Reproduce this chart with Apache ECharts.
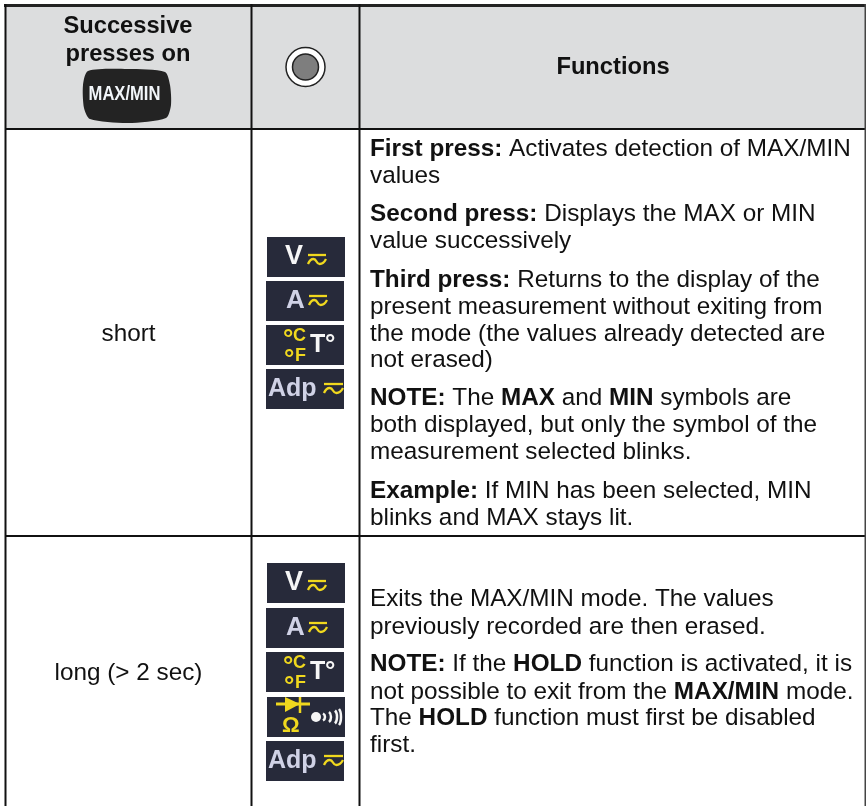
<!DOCTYPE html>
<html>
<head>
<meta charset="utf-8">
<style>html,body{margin:0;padding:0;background:#fff}#main{width:866px;height:806px}</style>
<script src="https://cdn.jsdelivr.net/npm/echarts@6/dist/echarts.min.js"></script>
</head>
<body>
<div id="main"></div>
<script>
// table content
const headerLeft = ['Successive', 'presses on'];
const headerButton = 'MAX/MIN';
const headerRight = 'Functions';
const rowLabels = ['short', 'long (> 2 sec)'];
// {b|...} marks the bold runs
const shortLines = [
    '{b|First press:} Activates detection of MAX/MIN',
    'values',
    '{b|Second press:} Displays the MAX or MIN',
    'value successively',
    '{b|Third press:} Returns to the display of the',
    'present measurement without exiting from',
    'the mode (the values already detected are',
    'not erased)',
    '{b|NOTE:} The {b|MAX} and {b|MIN} symbols are',
    'both displayed, but only the symbol of the',
    'measurement selected blinks.',
    '{b|Example:} If MIN has been selected, MIN',
    'blinks and MAX stays lit.'
];
const longLines = [
    'Exits the MAX/MIN mode. The values',
    'previously recorded are then erased.',
    '{b|NOTE:} If the {b|HOLD} function is activated, it is',
    'not possible to exit from the {b|MAX/MIN} mode.',
    'The {b|HOLD} function must first be disabled',
    'first.'
];
const shortIcons = ['V', 'A', 'T', 'Adp'];
const longIcons = ['V', 'A', 'T', 'diode', 'Adp'];

// layout
const shortLineY = [149, 176, 214, 241, 280, 307, 334, 360, 398, 425, 452, 491, 518];
const longLineY = [599, 627, 664, 692, 718, 745];
const shortIconY = [237, 281, 325, 369];
const longIconY = [563, 608, 652, 697, 741];

const FONT = '"Liberation Sans", Arial, sans-serif';
const BODY_SIZE = 24.3;
const HEAD_SIZE = 23.7;
const LINE = '#111';
const ICON_BG = '#272a3a';
const YELLOW = '#f0d81e';
const WHITE = '#f6f6f6';
const LILAC = '#d0d2e6';

const els = [];

function rect(x, y, w, h, fill) {
    els.push({ type: 'rect', shape: { x, y, width: w, height: h }, style: { fill } });
}
function label(x, y, text, opt, extra) {
    els.push(Object.assign({
        type: 'text', x, y,
        style: Object.assign({
            text, fill: '#111', font: BODY_SIZE + 'px ' + FONT,
            align: 'left', verticalAlign: 'middle'
        }, opt || {})
    }, extra || {}));
}
function richLine(x, y, text) {
    els.push({
        type: 'text', x, y,
        style: {
            text, fill: '#111', fontFamily: 'Liberation Sans', fontSize: BODY_SIZE,
            verticalAlign: 'middle', align: 'left',
            rich: { b: { fontFamily: 'Liberation Sans', fontSize: BODY_SIZE, fontWeight: 'bold', fill: '#111' } }
        }
    });
}
function stroke(points, color, width, smooth) {
    els.push({
        type: 'polyline', shape: { points, smooth: smooth || 0 },
        style: { fill: 'none', stroke: color, lineWidth: width }
    });
}

// AC/DC mark: straight bar over a wave
function acdc(x, y, w) {
    stroke([[x, y], [x + w, y]], YELLOW, 2.3);
    stroke([[x, y + 9], [x + w * 0.3, y + 4], [x + w * 0.65, y + 9], [x + w, y + 4]], YELLOW, 2.3, 0.6);
}

function icon(kind, x, y) {
    const w = 78, h = 40;
    rect(x, y, w, h, ICON_BG);
    if (kind === 'V') {
        label(x + 18, y + 20, 'V', { font: 'bold 27px ' + FONT, fill: WHITE });
        acdc(x + 41, y + 18, 18);
    } else if (kind === 'A') {
        label(x + 20, y + 20, 'A', { font: 'bold 26px ' + FONT, fill: LILAC });
        acdc(x + 43, y + 15, 18);
    } else if (kind === 'T') {
        label(x + 17, y + 15, '°', { font: 'bold 26px ' + FONT, fill: YELLOW });
        label(x + 27, y + 11, 'C', { font: 'bold 18px ' + FONT, fill: YELLOW });
        label(x + 18, y + 35, '°', { font: 'bold 26px ' + FONT, fill: YELLOW });
        label(x + 29, y + 31, 'F', { font: 'bold 18px ' + FONT, fill: YELLOW });
        label(x + 44, y + 20, 'T', { font: 'bold 25px ' + FONT, fill: WHITE });
        label(x + 59, y + 20, '°', { font: 'bold 26px ' + FONT, fill: WHITE });
    } else if (kind === 'Adp') {
        label(x + 2, y + 20, 'Adp', { font: 'bold 25px ' + FONT, fill: LILAC });
        acdc(x + 58, y + 15, 19);
    } else if (kind === 'diode') {
        stroke([[x + 9, y + 7], [x + 43, y + 7]], YELLOW, 3);
        stroke([[x + 33, y], [x + 33, y + 16]], YELLOW, 2.5);
        els.push({
            type: 'polygon',
            shape: { points: [[x + 18, y], [x + 33, y + 7], [x + 18, y + 15]] },
            style: { fill: YELLOW }
        });
        label(x + 15, y + 29, 'Ω', { font: 'bold 22px ' + FONT, fill: YELLOW });
        els.push({ type: 'circle', shape: { cx: x + 49, cy: y + 20, r: 5 }, style: { fill: WHITE } });
        [[4, 3.5], [10, 5], [16, 6.5], [20, 8]].forEach(([dx, r]) => {
            stroke([[x + 54 + dx - 2, y + 20 - r], [x + 54 + dx, y + 20], [x + 54 + dx - 2, y + 20 + r]], WHITE, 2.5, 0.7);
        });
    }
}

// backgrounds and grid lines
rect(5, 4, 861, 125, '#dcddde');
rect(4, 4, 862, 3, '#222');
rect(5, 128, 861, 2, LINE);
rect(5, 535, 861, 2, LINE);
rect(4.5, 4, 2, 802, LINE);
rect(250.5, 4, 2, 802, LINE);
rect(358.5, 4, 2, 802, LINE);
rect(864.5, 4, 1.5, 802, '#444');

// header
headerLeft.forEach((t, i) => label(128, 26 + i * 28, t, { font: 'bold ' + HEAD_SIZE + 'px ' + FONT, align: 'center' }));
els.push({
    type: 'polygon',
    shape: {
        smooth: 0.25,
        points: [[88, 71], [128, 69], [165, 72], [170, 85], [171, 105], [166, 118], [128, 123], [90, 119], [84, 108], [83, 85]]
    },
    style: { fill: '#232323' }
});
label(124.5, 94, headerButton, { font: 'bold 21px ' + FONT, fill: '#f2f6fa', align: 'center' }, { scaleX: 0.79 });
els.push({ type: 'circle', shape: { cx: 305.5, cy: 67, r: 19.5 }, style: { fill: '#fff', stroke: '#222', lineWidth: 1.5 } });
els.push({ type: 'circle', shape: { cx: 305.5, cy: 67, r: 13 }, style: { fill: '#7e7e7e', stroke: '#222', lineWidth: 1.5 } });
label(613, 67.5, headerRight, { font: 'bold ' + HEAD_SIZE + 'px ' + FONT, align: 'center' });

// row labels
label(128.5, 334, rowLabels[0], { align: 'center' });
label(128.5, 673, rowLabels[1], { align: 'center' });

// icon columns (V and diode sit 1px further right)
const iconX = { V: 267, A: 266, T: 266, diode: 267, Adp: 266 };
shortIcons.forEach((k, i) => icon(k, iconX[k], shortIconY[i]));
longIcons.forEach((k, i) => icon(k, iconX[k], longIconY[i]));

// description text
shortLines.forEach((t, i) => richLine(370, shortLineY[i], t));
longLines.forEach((t, i) => richLine(370, longLineY[i], t));

const myChart = echarts.init(document.getElementById('main'));
myChart.setOption({
    animation: false,
    backgroundColor: '#fff',
    graphic: { elements: els }
});
</script>
</body>
</html>
